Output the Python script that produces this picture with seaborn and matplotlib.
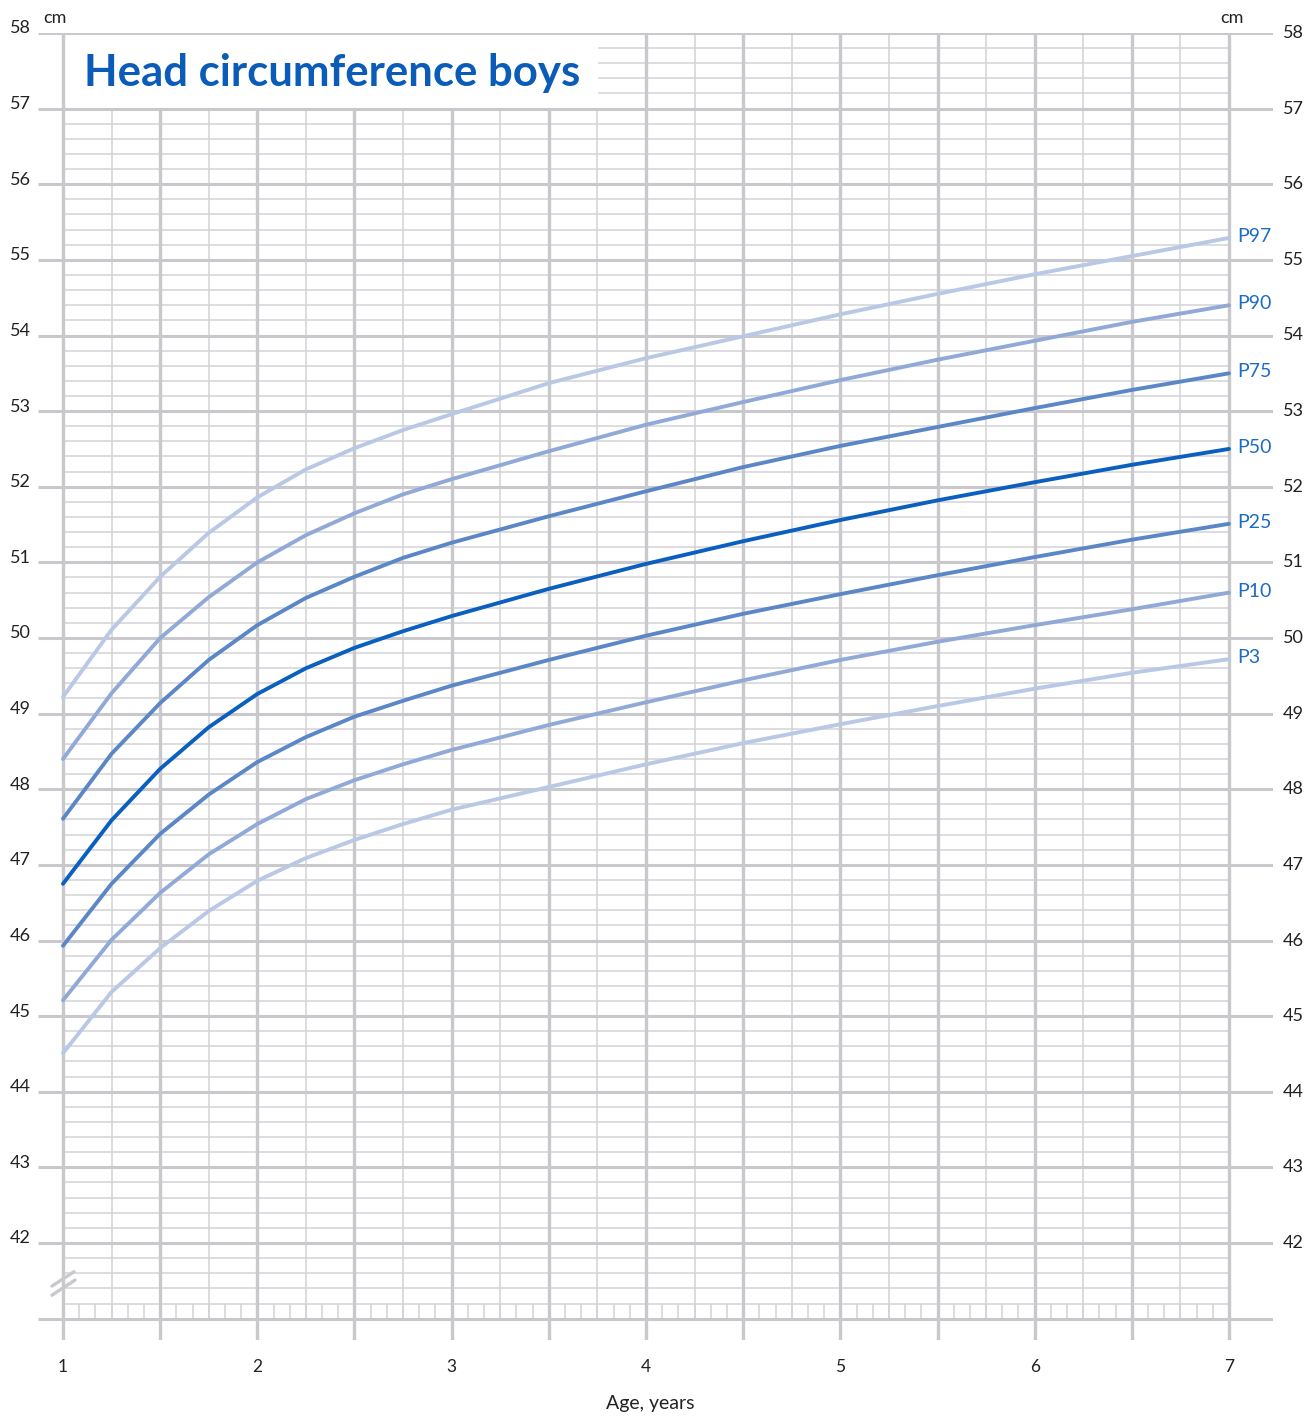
import matplotlib
matplotlib.use("Agg")
import matplotlib.pyplot as plt
import seaborn as sns
import numpy as np
import pandas as pd

# age in years and head circumference percentiles (cm)
ages = [1, 1.25, 1.5, 1.75, 2, 2.25, 2.5, 2.75, 3, 3.5, 4, 4.5, 5, 5.5, 6, 6.5, 7]
p3 = [44.51, 45.32, 45.90, 46.39, 46.79, 47.09, 47.33, 47.54, 47.73, 48.03, 48.33, 48.61, 48.86, 49.10, 49.33, 49.54, 49.72]
p10 = [45.21, 46.01, 46.63, 47.14, 47.54, 47.87, 48.12, 48.33, 48.52, 48.85, 49.15, 49.44, 49.71, 49.95, 50.17, 50.38, 50.60]
p25 = [45.93, 46.75, 47.41, 47.93, 48.36, 48.69, 48.96, 49.17, 49.37, 49.71, 50.03, 50.32, 50.58, 50.83, 51.07, 51.30, 51.51]
p50 = [46.75, 47.59, 48.27, 48.82, 49.26, 49.60, 49.87, 50.09, 50.29, 50.65, 50.98, 51.28, 51.56, 51.82, 52.06, 52.29, 52.50]
p75 = [47.61, 48.47, 49.14, 49.71, 50.17, 50.53, 50.81, 51.06, 51.26, 51.61, 51.94, 52.26, 52.54, 52.79, 53.04, 53.28, 53.50]
p90 = [48.40, 49.27, 50.00, 50.54, 51.00, 51.36, 51.65, 51.90, 52.10, 52.47, 52.82, 53.12, 53.41, 53.68, 53.93, 54.18, 54.40]
p97 = [49.22, 50.11, 50.81, 51.39, 51.86, 52.23, 52.51, 52.75, 52.96, 53.37, 53.70, 53.99, 54.28, 54.55, 54.81, 55.05, 55.29]

curve_names = ["P3", "P10", "P25", "P50", "P75", "P90", "P97"]
curve_values = [p3, p10, p25, p50, p75, p90, p97]
curve_colors = ["#b9c8e4", "#91a9d7", "#5b87c7", "#0b5fbe", "#5b87c7", "#91a9d7", "#b9c8e4"]

x_ticks = [1, 2, 3, 4, 5, 6, 7]
y_ticks = list(range(42, 59))

rows = []
for name, vals in zip(curve_names, curve_values):
    for a, v in zip(ages, vals):
        rows.append({"age": a, "hc": v, "curve": name})
df = pd.DataFrame(rows)

sns.set_style("white")
plt.rcParams['font.family'] = ['Lato', 'DejaVu Sans']

fig = plt.figure(figsize=(13.15, 14.18), dpi=100)
W, H = 1315, 1418
ax = fig.add_axes([38 / W, (H - 1340) / H, (1273 - 38) / W, (1340 - 33) / H])

pxx = (1229 - 63) / 6.0
pxy = (1243 - 33) / 16.0
ax.set_xlim(1 - 25 / pxx, 7 + 44 / pxx)
ax.set_ylim(42 - 97 / pxy, 58)
ax.axis("off")

grid_c = "#c9c9cd"
minor_c = "#d3d3d7"
box_x = 3.755  # right edge of the title box

# minor horizontal lines every 0.2 cm
for v in np.arange(41.2, 58, 0.2):
    if abs(v - round(v)) < 1e-6:
        continue
    x0 = box_x if v > 57 else 1
    ax.plot([x0, 7], [v, v], color=minor_c, lw=1.1, zorder=1, solid_capstyle="butt")

# minor vertical lines every quarter year
for a in np.arange(1.25, 7, 0.5):
    top = 57 if a < box_x else 58
    ax.plot([a, a], [41, top], color=minor_c, lw=1.1, zorder=1, solid_capstyle="butt")

# monthly ticks in the bottom band
for m in range(1, 72):
    a = 1 + m / 12
    ax.plot([a, a], [41, 41.2], color=minor_c, lw=1.1, zorder=1, solid_capstyle="butt")

# major horizontal lines
for v in range(41, 59):
    ax.plot([ax.get_xlim()[0], ax.get_xlim()[1]], [v, v], color=grid_c, lw=2.2, zorder=2,
            solid_capstyle="butt")

# major vertical lines every half year
for a in np.arange(1, 7.01, 0.5):
    top = 57 if 1 < a < box_x else 58
    ax.plot([a, a], [ax.get_ylim()[0], top], color=grid_c, lw=2.4, zorder=2, solid_capstyle="butt")

# axis break marks
ax.plot([0.943, 1.057], [41.43, 41.62], color=grid_c, lw=2.4, zorder=2)
ax.plot([0.943, 1.062], [41.31, 41.51], color=grid_c, lw=2.4, zorder=2)

sns.lineplot(data=df, x="age", y="hc", hue="curve", palette=dict(zip(curve_names, curve_colors)),
             hue_order=curve_names, lw=2.8, legend=False, ax=ax, zorder=5)

for name, vals in zip(curve_names, curve_values):
    ax.text(7 + 8 / pxx, vals[-1] + 0.02, name, color="#1c6cc4", fontsize=14,
            ha="left", va="center", zorder=6)

# tick labels
for v in y_ticks:
    ax.text(1 - 32 / pxx, v + 0.06, str(v), fontsize=13, ha="right", va="center", color="#222222",
            clip_on=False)
    ax.text(7 + 54 / pxx, v + 0.0, str(v), fontsize=13, ha="left", va="center", color="#222222",
            clip_on=False)
ax.text(1 - 8 / pxx, 58.2, "cm", fontsize=13, ha="center", va="center", color="#222222", clip_on=False)
ax.text(7 + 3 / pxx, 58.2, "cm", fontsize=13, ha="center", va="center", color="#222222", clip_on=False)

for a in x_ticks:
    fig.text((63 + (a - 1) * pxx) / W, 1 - 1367 / H, str(a), fontsize=12.5, ha="center", va="center",
             color="#222222")
fig.text(650 / W, 1 - 1403 / H, "Age, years", fontsize=14, ha="center", va="center", color="#222222")

ax.text(1 + 21 / pxx, 57.47, "Head circumference boys", fontsize=31.5, fontweight="bold",
        color="#0a5cb8", ha="left", va="center", zorder=6)

fig.savefig("out.png", dpi=100)
